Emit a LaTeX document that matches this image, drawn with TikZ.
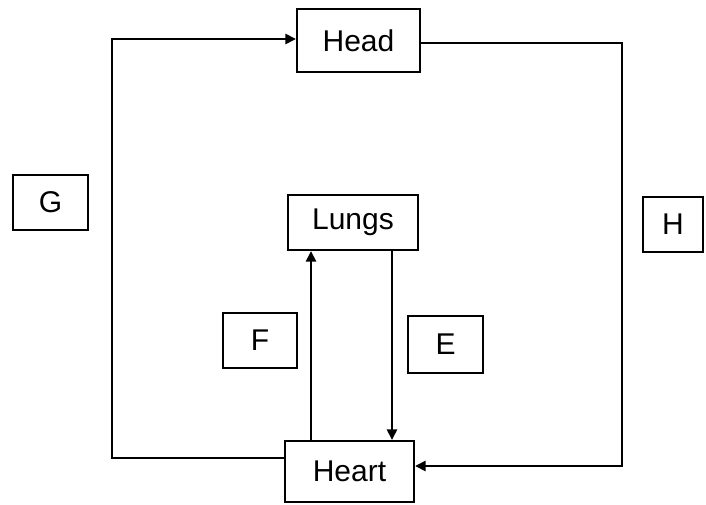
\documentclass[tikz,border=0pt]{standalone}
\usepackage{fontspec}
\setmainfont{Liberation Sans}
\usetikzlibrary{arrows.meta}
\begin{document}
\begin{tikzpicture}[x=0.75pt,y=-0.75pt,
  box/.style={draw, line width=1.5pt, inner sep=0pt, font=\fontsize{22.5}{26}\selectfont},
  conn/.style={line width=2pt},
  arr/.style={conn, -{Triangle[length=8pt,width=7.5pt]}}]
\useasboundingbox (0,0) rectangle (706,504);
% main boxes
\node[box, minimum width=92.25pt, minimum height=47.25pt] (head) at (358.5,40.5) {Head};
\node[box, minimum width=97.5pt, minimum height=41.25pt] (lungs) at (353,222.5) {Lungs};
\node[box, minimum width=96.75pt, minimum height=45.75pt] (heart) at (349.5,471.5) {Heart};
% label boxes
\node[box, minimum width=56.25pt, minimum height=41.25pt] (g) at (50.5,202.5) {G};
\node[box, minimum width=45pt, minimum height=41.25pt] (h) at (673,224.5) {H};
\node[box, minimum width=55.5pt, minimum height=41.25pt] (f) at (260,340.5) {F};
\node[box, minimum width=56.25pt, minimum height=42.75pt] (e) at (445.5,344.5) {E};
% corner points
\coordinate (gl) at (112,39);
\coordinate (hr) at (622,43);
% connectors
\draw[arr] (heart.west |- 0,458) -| (gl) -- (head.west |- gl);
\draw[arr] (head.east |- hr) -- (hr) |- (heart.east |- 0,466);
\draw[arr] (heart.north -| 311,0) -- (lungs.south -| 311,0);
\draw[arr] (lungs.south -| 392,0) -- (heart.north -| 392,0);
\end{tikzpicture}
\end{document}
